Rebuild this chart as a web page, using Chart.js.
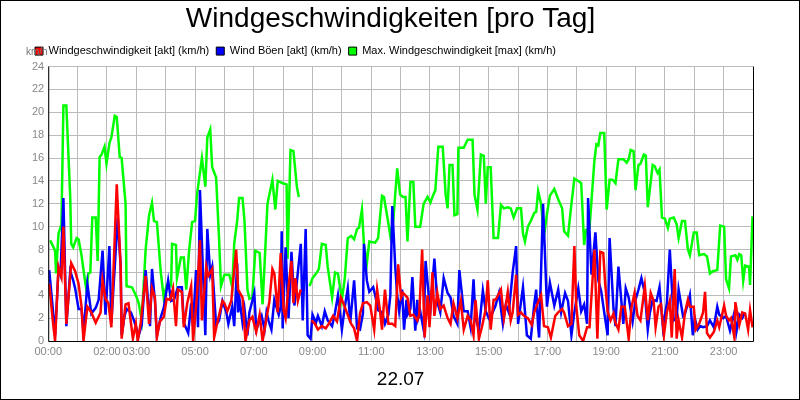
<!DOCTYPE html>
<html><head><meta charset="utf-8">
<script src="https://cdn.jsdelivr.net/npm/chart.js@4"></script>
<style>html,body{margin:0;padding:0;background:#fff}#w{width:798px;height:398px;border:1px solid #000;position:relative}canvas{display:block}</style>
</head><body><div id="w"><canvas id="c" width="798" height="398"></canvas></div>
<script>
const tickLabels = {0:'00:00',120:'02:00',180:'03:00',300:'05:00',420:'07:00',540:'09:00',660:'11:00',780:'13:00',900:'15:00',1020:'17:00',1140:'19:00',1260:'21:00',1380:'23:00'};
const dateLabel = '22.07';
const seriesNames = ['Windgeschwindigkeit [akt] (km/h)','Wind Böen [akt] (km/h)','Max. Windgeschwindigkeit [max] (km/h)'];

const greenT = [4,14,16,21,27,31,37,45,47,51,58,62,68,76,78,82,86,90,97,101,105,109,115,119,125,129,136,140,146,150,158,160,171,179,185,191,199,206,212,216,222,230,236,242,251,253,261,263,271,277,282,288,294,300,304,314,321,325,331,335,343,349,353,360,370,376,380,386,390,397,401,407,411,417,423,432,438,448,458,464,469,479,487,489,495,501,508,512,522,534,540,549,553,559,567,571,580,586,592,600,606,612,619,625,631,635,641,645,651,656,668,674,682,686,693,699,705,713,719,725,730,734,740,746,750,760,767,775,781,785,791,797,806,812,816,820,826,830,836,838,849,857,867,871,877,884,890,894,898,904,910,919,925,931,939,945,951,958,966,970,974,980,986,993,997,1001,1007,1013,1019,1025,1034,1042,1050,1054,1062,1069,1075,1083,1089,1095,1099,1106,1116,1120,1124,1128,1136,1141,1147,1153,1159,1165,1175,1182,1186,1190,1196,1200,1206,1210,1217,1221,1225,1235,1239,1245,1249,1254,1260,1266,1270,1278,1284,1288,1295,1301,1307,1311,1319,1325,1330,1340,1346,1352,1358,1367,1373,1381,1385,1391,1395,1404,1408,1412,1416,1420,1424,1432,1434,1439];
const greenV = [8.8,7.9,5.9,9.4,10.2,20.6,20.6,12.5,8.5,8.2,9,8.9,7.5,5,4.5,5.9,6,10.8,10.8,7,16.1,16.3,17,15.5,17.3,17.8,19.7,19.6,16.1,16,12,4.8,4.7,4,3.3,1.8,8,11,12.1,10.5,10.4,6,3.8,4.9,4.8,8.5,8.4,5.5,7.3,7.3,4.5,8,10.4,10.5,12.8,16,13.5,17.8,18.5,15.2,14.3,9,4.8,5.8,5.8,4.7,8.5,10.5,12.5,12.5,10.5,4.5,3.7,3.8,7.9,7.7,3.2,12,14.1,11.5,14,13.8,13.7,7.2,16.7,16.6,13.5,12.6,null,4.8,5.5,6.0,6.3,8.5,8.4,6.5,3.8,6.0,5.9,3.6,5.5,9.0,9.2,8.9,9.8,9.9,11.5,8.5,6.8,8.7,8.6,9.0,12.7,12.6,10.8,9.2,10.5,15.1,12.8,12.6,12.6,8.7,13.9,13.9,10.0,10.0,12,12.6,12.1,12.6,13.2,17,17,12.8,11.6,15.4,15.4,11.0,11.1,16.9,16.9,17.6,17.6,12.8,11.5,16.3,16.2,12.0,15.2,15.2,9,9.0,11.9,11.6,11.7,11.6,10.8,11.6,11.6,9.4,8.7,10.0,10.5,11.2,11.3,13.1,12.0,9.2,11.1,12.7,13.3,12.4,11.6,9.6,9.2,12,14.2,14,13.8,8.4,9.7,9.9,15.8,17.2,17.1,18.2,18.2,11.5,14.1,14.1,13.8,15.9,15.9,15.6,15.9,16.7,16.6,13.2,15.4,15.5,16.3,16.2,11.7,15.4,15.3,14.7,15,10.8,10.7,9.9,10.7,10.8,10.2,9,10.5,10.5,8.0,7.5,9.5,9.5,7.5,7.6,7.4,5.9,6.1,6.2,10.1,10,5.4,4.6,7.4,7.5,7.1,7.6,7.5,5.3,6.6,6.5,4.9,10.9];

const blueT = [2,10,14,21,25,31,37,45,51,55,62,68,72,80,88,97,103,111,117,125,129,142,148,150,156,160,169,175,185,191,199,208,212,218,222,230,236,245,251,257,265,273,277,286,292,296,302,306,310,321,325,331,335,343,349,356,364,368,376,380,386,388,391,397,401,407,411,421,425,436,442,446,450,456,462,471,475,477,479,485,491,497,503,510,516,520,526,530,536,540,547,551,559,565,571,580,586,592,600,606,612,617,625,631,637,643,645,651,656,664,668,674,682,688,695,699,703,709,713,717,723,727,732,734,740,744,750,754,756,760,767,771,777,779,789,795,801,808,816,822,828,836,840,849,857,863,869,873,880,888,894,900,908,914,921,929,935,941,949,956,960,970,978,986,993,997,1001,1003,1011,1019,1025,1034,1042,1048,1056,1062,1069,1075,1083,1089,1095,1101,1103,1110,1118,1124,1130,1136,1143,1147,1155,1159,1165,1175,1180,1186,1194,1200,1206,1212,1219,1225,1229,1235,1243,1249,1256,1264,1270,1278,1284,1288,1297,1301,1307,1311,1317,1321,1327,1332,1338,1346,1352,1360,1367,1371,1379,1385,1393,1402,1406,1412,1418,1424,1432,1439];
const blueV = [6.2,2.5,0.5,6.3,5.8,12.5,1.3,6.1,5.3,4.6,2.8,2.8,0.7,5,2.4,2.9,3.6,7.9,2.3,8.3,1.6,10.8,6.5,0.5,2.2,2.8,2.5,1.8,0.5,1.4,6.2,1.3,6.3,3.5,0.5,2.1,2.9,5.3,3.5,3.6,4.7,4.7,1.6,0.7,3.3,1.3,6.2,1.2,13.2,0.5,9.8,5.8,6.5,1.4,1.8,3.5,2.5,1.5,3,1.3,6.8,2.5,3.6,1.6,2.8,0.5,2.5,4.2,1.0,2.2,1.0,2.5,1.8,1.0,3.6,2.3,3,9.6,1.1,8.2,2,7.8,3.1,6,8.5,1.8,9.8,0.5,0.2,2.3,1.6,2.2,1.3,2.6,1.8,1.3,2.5,4.0,1.0,3.0,4.6,1.6,5.3,1.1,1.0,2.4,8.5,5.3,4.3,4.7,4.0,2.7,2.5,1.5,2.3,4.0,11.8,6.5,4.0,2.6,4.5,1.0,3.6,2.3,2.8,5.6,0.9,3.6,2.0,2.6,1.0,7.0,4.2,1.7,7.2,3.4,2.5,5.5,4.2,3.8,2.2,1.5,6.2,2.6,2.6,1.2,5.4,2.0,1.0,4.4,2.6,2.0,2.5,3.1,4.2,1.5,3.2,2.5,6.0,8.3,1.5,4.7,0.5,0.2,3.2,4.5,1.2,0.3,12,3.0,5.1,3.1,4.5,2.5,4.2,3.5,0.5,2.5,4.6,2.6,3.2,1.5,12.5,5.8,9.5,5.3,4.3,2.5,0.5,9,2.8,1.3,6.5,1.5,4.6,3.8,1.7,3.6,4.5,5.5,4.2,1.0,2.4,3.6,3.5,4.7,1.2,3.3,8.0,1.8,2.0,4.5,2.2,2.4,3.3,4.0,0.5,2.0,1.0,1.3,1.2,1.3,1.8,1.2,3.0,2.3,2.0,2.2,0.9,2.5,0.8,2.3,2.0,2.5];

const redT = [2,10,14,21,27,31,37,47,55,62,68,72,80,88,97,107,111,117,123,129,140,148,150,158,164,173,179,183,189,199,206,212,218,222,228,236,242,249,255,261,265,273,277,284,292,296,304,310,314,323,327,335,339,345,356,360,366,374,384,388,
397,403,411,417,425,432,438,446,452,458,462,469,475,481,485,491,497,501,505,510,516,525,538,545,551,559,567,573,582,590,598,604,610,619,625,631,637,643,651,658,666,672,678,682,688,695,703,709,715,721,725,734,740,746,754,758,
764,769,775,779,785,789,795,801,808,816,822,828,836,843,849,857,863,869,873,880,886,894,898,904,910,914,919,925,931,939,945,949,956,960,966,972,980,988,993,1001,1007,1013,1021,1027,1036,1042,1050,1054,1062,1069,1075,1079,1085,1093,1101,1106,1116,1122,1128,1134,1138,1143,1149,1155,1159,1165,1171,1178,1186,1192,1198,1204,1210,1219,1225,1231,1237,1241,1247,1252,1258,1264,1270,1274,1280,1284,1288,1295,1301,1307,1311,1319,1323,1330,1338,1342,1346,1352,1360,1367,1371,1381,1385,1391,1395,1402,1404,1412,1418,1424,1430,1434,1439];
const redV = [5,1.5,0,6.5,5.6,10,1.5,6.8,6.1,5,3.0,0,3.0,2.5,1.6,2.5,5.3,3.7,3.3,1.2,13.7,6.5,0.2,3.2,3.3,0.2,1.5,0,1.6,5.7,1.5,4.6,3.8,0.3,1.7,2.1,3.7,3.6,4.6,1.3,4.5,4.3,1.2,3.3,4.8,0,4.0,8.8,1.8,6.5,5.7,6.3,0.3,1.5,3.5,3.3,2.6,3.5,8.0,4.5,
3.8,0,1.8,2.1,0.8,2.3,0,2.0,3.5,6.3,5.9,2.5,7.7,2.7,2.0,4.8,7.0,3.3,5.5,3.5,4.5,null,1.8,1.5,1.0,1.3,1.1,1.5,2.2,1.7,3.8,3.2,2.5,1.5,1.1,0,2.4,3.3,3.4,3.1,1.0,4.5,2.6,1.0,4.5,1.5,1.5,1.3,6.7,3.8,4.2,3.8,2.2,2.3,1.8,2.3,
8.0,0.3,4.0,1.2,6.0,2.2,4.2,2.8,3.1,2.0,1.5,3.3,2.0,3.5,1.0,2.2,1.8,0.5,3.6,0.2,1.2,2.8,5.3,1.0,3.6,3.6,4.0,4.5,2.0,4.3,1.8,2.5,5.8,2.3,2.5,2.2,2.0,1.4,2.5,3.4,4.0,1.3,1.2,0.3,2.2,2.5,2.8,2.5,1.3,1.5,8.3,3.0,0.5,0,1.2,1.2,8,0.2,7.8,7.7,5,2.6,1.8,2.4,1.6,1.0,3,3.0,0.2,3.0,4.2,2.2,1.8,4.8,1.8,4.2,3.5,1.2,3.0,3.2,0.5,2.5,3.5,0.3,6.3,0.2,1.8,0.3,2.5,3.6,3.0,3.0,1.0,1.5,2.5,4.3,0.7,0.3,0.8,1.8,1.2,3.1,2.2,1.8,2.0,0.3,3.4,1.4,2.5,2.4,1.0,2.7,1.2];

function pts(t, v){ const n=Math.min(t.length,v.length); const out=[]; for(let i=0;i<n;i++){ out.push({x:t[i],y:v[i]}); } return out; }

const F='"Liberation Sans", Arial, sans-serif';
const frame = {id:'frame', afterDraw(c){const a=c.chartArea,x=c.ctx;x.save();x.strokeStyle='#000';x.lineWidth=1;x.beginPath();x.moveTo(a.left+0.5,a.top);x.lineTo(a.left+0.5,a.bottom+0.5);x.lineTo(a.right+0.5,a.bottom+0.5);x.lineTo(a.right+0.5,a.top);x.stroke();
x.fillStyle='#777';x.font='10px '+F;x.textAlign='left';x.fillText('km/h',25,51);x.restore();}};

new Chart(document.getElementById('c'),{
  type:'line',
  data:{datasets:[
    {label:seriesNames[0],data:pts(redT,redV),borderColor:'#ff0000',backgroundColor:'#ff0000',borderWidth:2.5,pointRadius:0,tension:0,order:1},
    {label:seriesNames[1],data:pts(blueT,blueV),borderColor:'#0000ff',backgroundColor:'#0000ff',borderWidth:2.5,pointRadius:0,tension:0,order:2},
    {label:seriesNames[2],data:pts(greenT,greenV),borderColor:'#00ff00',backgroundColor:'#00ff00',borderWidth:2.5,pointRadius:0,tension:0,order:3}
  ]},
  options:{responsive:false,animation:false,
    layout:{padding:{left:27,right:46,top:0,bottom:8}},
    plugins:{
      title:{display:true,text:'Windgeschwindigkeiten [pro Tag]',color:'#000',font:{family:F,size:28,weight:'normal'},padding:{top:1,bottom:3}},
      legend:{display:true,position:'top',align:'start',labels:{boxWidth:8,boxHeight:8,color:'#000',font:{family:F,size:11},padding:7,
        generateLabels(c){return c.data.datasets.map((d,i)=>({text:d.label,fillStyle:d.borderColor,strokeStyle:'#000',lineWidth:1,datasetIndex:i}));}}},
      tooltip:{enabled:false}
    },
    scales:{
      x:{type:'linear',min:0,max:1440,
        afterBuildTicks(s){const t=[];for(let m=0;m<=1440;m+=60)t.push({value:m});s.ticks=t;},
        ticks:{autoSkip:false,maxRotation:0,color:'#888',font:{family:F,size:11},padding:4,callback:v=>tickLabels[v]||''},
        grid:{color:'#bbbbbb',drawTicks:false},border:{display:false},
        title:{display:true,text:dateLabel,color:'#000',font:{family:F,size:19},padding:{top:6,bottom:0}}},
      y:{min:0,max:24,
        ticks:{stepSize:2,color:'#888',font:{family:F,size:11},padding:4},
        grid:{color:'#bbbbbb',drawTicks:false},border:{display:false}}
    }
  },
  plugins:[frame]
});
</script></body></html>
